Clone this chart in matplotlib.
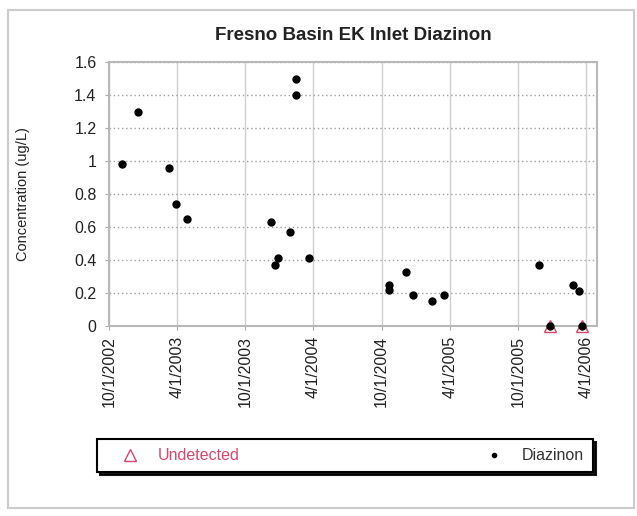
import pandas as pd
import matplotlib
matplotlib.use("Agg")
import matplotlib.pyplot as plt
import matplotlib.dates as mdates
import matplotlib.transforms as mtransforms
from matplotlib.lines import Line2D
from matplotlib.patches import Rectangle

plt.rcParams['font.family'] = ['Liberation Sans', 'DejaVu Sans']

# sample dates and diazinon concentration (ug/L)
sample_dates = ['2002-11-04', '2002-12-17', '2003-03-11', '2003-03-30', '2003-04-29',
                '2003-12-09', '2003-12-21', '2003-12-29', '2004-01-28', '2004-02-14',
                '2004-02-14', '2004-03-21', '2004-10-21', '2004-10-21', '2004-12-04',
                '2004-12-25', '2005-02-13', '2005-03-16', '2005-11-27', '2005-12-27',
                '2006-02-26', '2006-03-13', '2006-03-22']
diazinon = [0.98, 1.30, 0.96, 0.74, 0.65,
            0.63, 0.37, 0.41, 0.57, 1.50,
            1.40, 0.41, 0.25, 0.22, 0.33,
            0.19, 0.15, 0.19, 0.37, 0.0,
            0.25, 0.21, 0.0]

undetected_dates = ['2005-12-27', '2006-03-22']
undetected = [0.0, 0.0]

tick_labels = ['10/1/2002', '4/1/2003', '10/1/2003', '4/1/2004',
               '10/1/2004', '4/1/2005', '10/1/2005', '4/1/2006']
y_ticks = [0, 0.2, 0.4, 0.6, 0.8, 1, 1.2, 1.4, 1.6]

red = '#d9476a'

fig = plt.figure(figsize=(6.37, 5.16), dpi=100)
ax = fig.add_axes([109 / 637, 190 / 516, 488 / 637, 264 / 516])

x = pd.to_datetime(sample_dates)
xu = pd.to_datetime(undetected_dates)

ax.plot(xu, undetected, linestyle='none', marker='^', markersize=8,
        markerfacecolor='none', markeredgecolor=red, markeredgewidth=1,
        clip_on=False, zorder=3)
ax.plot(x, diazinon, linestyle='none', marker='o', markersize=5,
        color='black', clip_on=False, zorder=4)

ax.set_xlim(pd.Timestamp('2002-10-01'), pd.Timestamp('2006-05-01'))
ax.set_ylim(0, 1.6)

xt = pd.to_datetime(tick_labels, format='%m/%d/%Y')
ax.set_xticks(mdates.date2num(xt))
ax.set_xticklabels(tick_labels, rotation=90, fontsize=11.5, color='#222222')
ax.set_yticks(y_ticks)
ax.set_yticklabels(['%g' % v for v in y_ticks], fontsize=11.5, color='#222222')

# shift rotated date labels a little to the left like the original
offset = mtransforms.ScaledTranslation(-6 / 72, 0, fig.dpi_scale_trans)
for lab in ax.get_xticklabels():
    lab.set_transform(lab.get_transform() + offset)

ax.tick_params(axis='both', length=3, color='#aaaaaa')
ax.tick_params(axis='x', pad=4)
ax.tick_params(axis='y', pad=6)

ax.xaxis.grid(True, color='#d0d0d0', linewidth=1, linestyle='-')
ax.yaxis.grid(True, color='#a0a0a0', linewidth=1, linestyle=(0, (1, 2)))
ax.set_axisbelow(True)
for s in ax.spines.values():
    s.set_color('#b8b8b8')
    s.set_linewidth(1.5)

ax.set_ylabel('Concentration (ug/L)', fontsize=10.5, color='#222222')
ax.yaxis.set_label_coords(-79 / 488, 0.5)

fig.text(353 / 637, 1 - 35 / 516, 'Fresno Basin EK Inlet Diazinon',
         ha='center', va='center', fontsize=13.5, fontweight='bold', color='#222222')

handles = [Line2D([], [], linestyle='none', marker='^', markersize=8,
                  markerfacecolor='none', markeredgecolor=red),
           Line2D([], [], linestyle='none', marker='o', markersize=3, color='black')]
leg = fig.legend(handles, ['Undetected', 'Diazinon'], ncol=2, mode='expand',
                 loc='lower left',
                 bbox_to_anchor=(97 / 637, 44 / 516, 496 / 637, 34 / 516),
                 borderaxespad=0, fontsize=11.5, fancybox=False,
                 shadow={'color': 'black', 'alpha': 0.9},
                 edgecolor='black', framealpha=1,
                 borderpad=0.55, handlelength=3, handletextpad=0.25)
leg.get_frame().set_linewidth(1.5)
leg.get_texts()[0].set_color(red)
leg.get_texts()[1].set_color('#333333')

fig.add_artist(Rectangle((8 / 637, 8 / 516), 626 / 637, 498 / 516,
                         transform=fig.transFigure, fill=False,
                         edgecolor='#cccccc', linewidth=1.5))

fig.savefig('out.png', dpi=100)
